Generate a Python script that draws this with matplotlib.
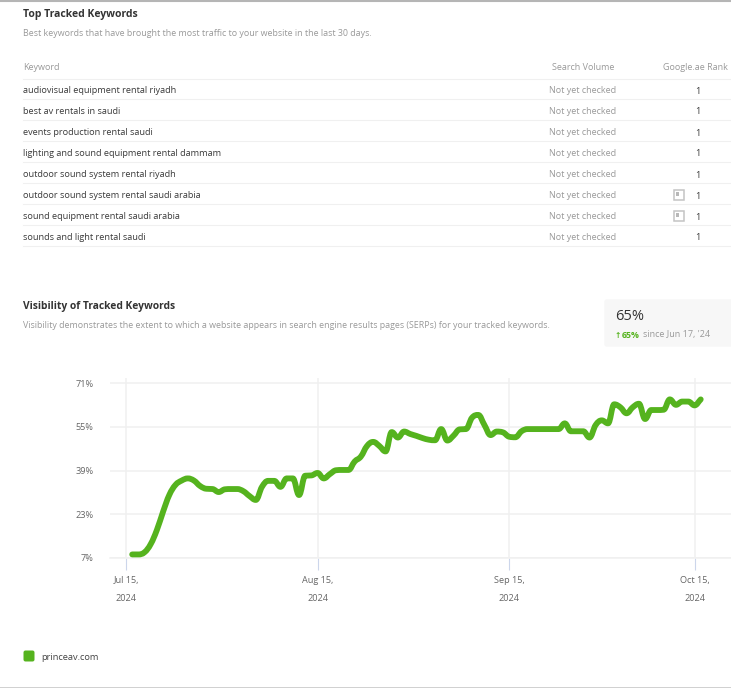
import pandas as pd
import matplotlib
matplotlib.use('Agg')
import matplotlib.pyplot as plt
from matplotlib.dates import date2num
from matplotlib.path import Path
from matplotlib.patches import FancyBboxPatch, PathPatch, Rectangle

plt.rcParams['font.family'] = ['Open Sans', 'DejaVu Sans']

W, H = 731, 688
GREEN = '#55b31e'
DARK = '#333333'
GREY = '#999999'

# table contents
keywords = [
    'audiovisual equipment rental riyadh',
    'best av rentals in saudi',
    'events production rental saudi',
    'lighting and sound equipment rental dammam',
    'outdoor sound system rental riyadh',
    'outdoor sound system rental saudi arabia',
    'sound equipment rental saudi arabia',
    'sounds and light rental saudi',
]
volumes = ['Not yet checked'] * 8
ranks = ['1'] * 8
has_icon = [False, False, False, False, False, True, True, False]

# visibility per day, starting Jul 16 2024
visibility = [
    8.2, 8.2, 9.0, 12.0, 17.2, 23.9, 30.0, 33.7, 35.3, 36.1,
    35.3, 33.3, 32.3, 32.2, 31.1, 32.1, 32.2, 32.2, 31.4, 29.6,
    28.2, 33.0, 35.2, 35.2, 33.0, 36.1, 36.1, 30.0, 37.1, 37.2,
    38.1, 36.1, 37.7, 39.1, 39.2, 39.2, 42.3, 44.1, 48.0, 49.5,
    48.0, 46.0, 53.1, 51.1, 53.3, 52.4, 51.7, 50.9, 50.3, 50.1,
    54.2, 50.0, 51.8, 54.1, 54.2, 58.4, 59.4, 55.7, 52.0, 53.3,
    53.0, 51.4, 51.2, 53.4, 54.2, 54.2, 54.2, 54.2, 54.2, 54.2,
    56.3, 53.4, 53.4, 53.4, 51.1, 55.7, 57.4, 56.3, 63.3, 62.2,
    60.0, 62.2, 63.5, 57.9, 61.2, 61.2, 61.3, 65.1, 63.1, 64.3,
    64.3, 62.9, 65.1,
]
dates = pd.date_range('2024-07-16', periods=len(visibility), freq='D')

y_ticks = [7, 23, 39, 55, 71]
y_labels = ['7%', '23%', '39%', '55%', '71%']
x_ticks = pd.to_datetime(['2024-07-15', '2024-08-15', '2024-09-15', '2024-10-15'])
x_labels = ['Jul 15,\n2024', 'Aug 15,\n2024', 'Sep 15,\n2024', 'Oct 15,\n2024']


def text(x, y, s, size=6.6, color=DARK, ha='left', **kw):
    # x, y are in image pixels from the top left
    fig.text(x / W, 1 - y / H, s, fontsize=size, color=color, ha=ha, va='center', **kw)


def hline(x0, x1, y, color='#f0f0f0', lw=0.8):
    fig.add_artist(plt.Line2D([x0 / W, x1 / W], [1 - y / H, 1 - y / H], color=color, lw=lw))


def spline_path(xs, ys, smooth=1.5):
    # bezier path through the points, flat at local peaks like the original chart
    verts = [(xs[0], ys[0])]
    codes = [Path.MOVETO]
    right = (xs[0], ys[0])
    for i in range(1, len(xs)):
        x, y = xs[i], ys[i]
        x0, y0 = xs[i - 1], ys[i - 1]
        x1, y1 = xs[min(i + 1, len(xs) - 1)], ys[min(i + 1, len(xs) - 1)]
        lx = (smooth * x + x0) / (smooth + 1)
        ly = (smooth * y + y0) / (smooth + 1)
        rx = (smooth * x + x1) / (smooth + 1)
        ry = (smooth * y + y1) / (smooth + 1)
        if rx != lx:
            fix = (ry - ly) * (rx - x) / (rx - lx) + y - ry
            ly += fix
            ry += fix
        if ly > y0 and ly > y or ly < y0 and ly < y:
            ly = max(y0, y) if ly > y else min(y0, y)
            ry = 2 * y - ly
        if ry > y1 and ry > y or ry < y1 and ry < y:
            ry = max(y1, y) if ry > y else min(y1, y)
            ly = 2 * y - ry
        verts += [right, (lx, ly), (x, y)]
        codes += [Path.CURVE4, Path.CURVE4, Path.CURVE4]
        right = (rx, ry)
    return Path(verts, codes)


fig = plt.figure(figsize=(W / 100, H / 100), dpi=100)

# page borders
hline(0, W, 0.5, color='#b5b5b5', lw=1.5)
hline(0, W, 687.5, color='#c8c8c8', lw=1.2)

# keyword table
text(23, 15, 'Top Tracked Keywords', size=7.5, fontweight='bold')
text(23, 34, 'Best keywords that have brought the most traffic to your website in the last 30 days.',
     size=6.38, color=GREY)
text(23, 68, 'Keyword', size=6.5, color=GREY)
text(583, 68, 'Search Volume', size=6.5, color=GREY, ha='center')
text(695.5, 68, 'Google.ae Rank', size=6.5, color=GREY, ha='center')
hline(23, W, 78.5)
for i, kw in enumerate(keywords):
    y = 90.5 + 21 * i
    text(23, y, kw, size=6.6, color='#3a3a3a')
    text(583, y, volumes[i], size=6.5, color=GREY, ha='center')
    text(698, y + 0.5, ranks[i], size=6.7, color='#3a3a3a', ha='center')
    hline(23, W, y + 9 - 0.2)
    if has_icon[i]:
        fig.add_artist(Rectangle((673.5 / W, 1 - (y + 4.5) / H), 10 / W, 10 / H, fc='white',
                                 ec='#c4c4c4', lw=1.1, transform=fig.transFigure))
        fig.add_artist(Rectangle((675.7 / W, 1 - (y + 0.5) / H), 3.6 / W, 3.6 / H, fc='#b8b8b8',
                                 ec='none', transform=fig.transFigure))

# visibility header
text(23, 306, 'Visibility of Tracked Keywords', size=7.4, fontweight='bold')
text(23, 325, 'Visibility demonstrates the extent to which a website appears in search engine results pages (SERPs) for your tracked keywords.',
     size=6.38, color=GREY)

# metric box
box_ax = fig.add_axes([0, 0, 1, 1], zorder=-1)
box_ax.set_xlim(0, W)
box_ax.set_ylim(H, 0)
box_ax.axis('off')
box_ax.add_patch(FancyBboxPatch((605, 300), 132, 46, boxstyle='round,pad=0,rounding_size=2',
                                fc='#f7f7f7', ec='#f7f7f7', lw=1))
text(615, 317, '65%', size=10.5, color=DARK, fontweight='medium')
text(615, 335, '\u2191', size=5.5, color=GREEN, fontweight='bold', family='DejaVu Sans')
text(622, 335, '65%', size=6.3, color=GREEN, fontweight='bold')
text(643, 335, "since Jun 17, '24", size=6.5, color=GREY)

# chart
ax = fig.add_axes([110 / W, 1 - 557.7 / H, 621 / W, 179.7 / H])
ax.add_patch(PathPatch(spline_path(date2num(dates), visibility), fc='none', ec=GREEN, lw=4.2,
                       capstyle='round', joinstyle='round', clip_on=False, zorder=3))
ax.set_ylim(7, 72.95)
ax.set_xlim(pd.Timestamp('2024-07-15') - pd.Timedelta(days=2.59),
            pd.Timestamp('2024-07-15') + pd.Timedelta(days=97.9))
ax.set_yticks(y_ticks, y_labels)
ax.set_xticks(x_ticks, x_labels)
ax.grid(True, color='#f0f0f0', lw=1.1)
ax.set_axisbelow(True)
for name in ['top', 'right', 'left']:
    ax.spines[name].set_visible(False)
ax.spines['bottom'].set_color('#f0f0f0')
ax.spines['bottom'].set_linewidth(1.1)
ax.tick_params(axis='y', length=0, pad=12, labelsize=6.6, labelcolor='#666666')
ax.tick_params(axis='x', length=8.5, width=0.8, color='#ccd6eb', pad=4.7, labelsize=6.6,
               labelcolor='#666666')
for lab in ax.get_xticklabels():
    lab.set_linespacing(2.3)

# legend
box_ax.add_patch(FancyBboxPatch((24, 651), 10, 10, boxstyle='round,pad=0.5,rounding_size=2',
                                fc=GREEN, ec='none'))
text(41, 657, 'princeav.com', size=6.7, color='#444444')

fig.savefig('out.png', dpi=100)
